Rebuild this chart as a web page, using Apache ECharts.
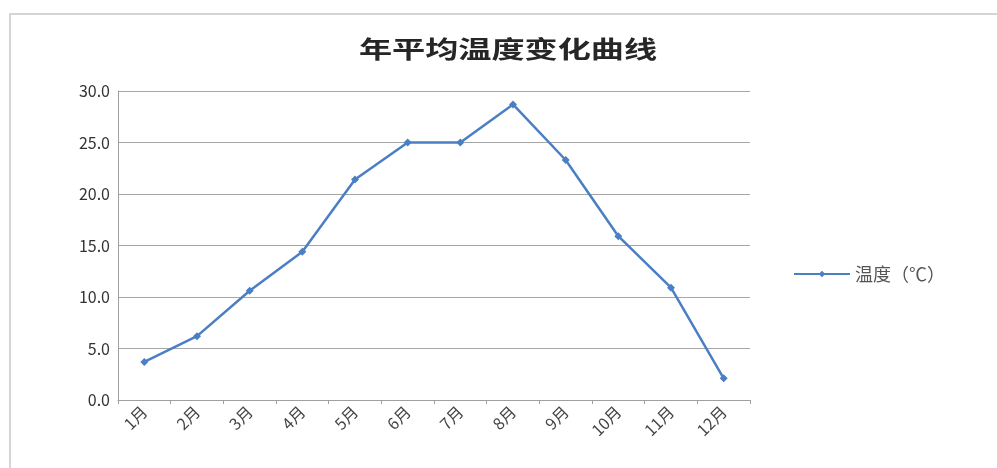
<!DOCTYPE html>
<html>
<head>
<meta charset="utf-8">
<script src="https://cdn.jsdelivr.net/npm/echarts@6/dist/echarts.min.js"></script>
<style>
  html, body { margin: 0; padding: 0; background: #ffffff; }
  #chart { width: 997px; height: 468px; }
</style>
</head>
<body>
<div id="chart"></div>
<script>
// Monthly average temperature
const months = ['1月', '2月', '3月', '4月', '5月', '6月', '7月', '8月', '9月', '10月', '11月', '12月'];
const temperature = [3.7, 6.2, 10.6, 14.4, 21.4, 25.0, 25.0, 28.7, 23.3, 15.9, 10.9, 2.1];
const seriesName = '温度（℃）';
const chartTitle = '年平均温度变化曲线';

const chart = echarts.init(document.getElementById('chart'));
const lineBlue = '#4a7fc4';

chart.setOption({
  backgroundColor: '#ffffff',
  animation: false,
  graphic: [
    {
      type: 'rect',
      shape: { x: 10, y: 14, width: 1000, height: 470 },
      style: { fill: 'none', stroke: '#c8c8c8', lineWidth: 1.5 },
      silent: true
    },
    {
      type: 'text',
      x: 508,
      y: 49,
      scaleX: 1.38,
      style: {
        text: chartTitle,
        font: 'bold 24px "Noto Sans CJK SC"',
        fill: '#262626',
        textAlign: 'center',
        textVerticalAlign: 'middle'
      }
    }
  ],
  legend: {
    left: 788,
    top: 260,
    itemWidth: 56,
    itemHeight: 8,
    itemGap: 6,
    textStyle: { color: '#555555', fontSize: 18, fontFamily: 'Noto Sans CJK SC' },
    data: [seriesName]
  },
  grid: { left: 118, right: 247, top: 91, bottom: 68, containLabel: false },
  xAxis: {
    type: 'category',
    data: months,
    boundaryGap: true,
    axisLine: { lineStyle: { color: '#a0a0a0', width: 1 } },
    axisTick: { show: true, alignWithLabel: false, length: 4, lineStyle: { color: '#a0a0a0' } },
    axisLabel: {
      rotate: 45,
      interval: 0,
      margin: 9,
      color: '#444444',
      fontSize: 16,
      fontFamily: 'Noto Sans CJK SC'
    }
  },
  yAxis: {
    type: 'value',
    min: 0,
    max: 30,
    interval: 5,
    axisLine: { show: true, lineStyle: { color: '#a0a0a0', width: 1 } },
    axisTick: { show: false },
    splitLine: { lineStyle: { color: '#a6a6a6', width: 1 } },
    axisLabel: {
      color: '#333333',
      fontSize: 16,
      margin: 8,
      fontFamily: 'Noto Sans CJK SC',
      formatter: function (v) { return v.toFixed(1); }
    }
  },
  series: [
    {
      name: seriesName,
      type: 'line',
      data: temperature,
      symbol: 'diamond',
      symbolSize: 8,
      lineStyle: { color: lineBlue, width: 2.5 },
      itemStyle: { color: lineBlue }
    }
  ]
});
</script>
</body>
</html>
